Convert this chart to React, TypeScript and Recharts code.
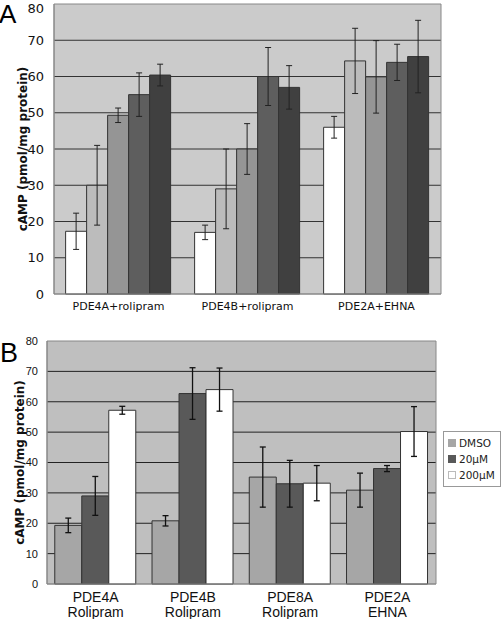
import React from "react";
import {
  BarChart,
  Bar,
  XAxis,
  YAxis,
  CartesianGrid,
  ErrorBar,
  Legend,
  ReferenceArea,
} from "recharts";

// panel A
const aGroups = ["PDE4A+rolipram", "PDE4B+rolipram", "PDE2A+EHNA"];
const aS1 = [17.3, 17, 46];
const aS1Err = [5, 2, 3];
const aS2 = [30, 29, 64.3];
const aS2Err = [11, 11, 9];
const aS3 = [49.3, 40, 59.9];
const aS3Err = [2, 7, 10];
const aS4 = [55, 60, 63.9];
const aS4Err = [6, 8, 5];
const aS5 = [60.4, 57, 65.5];
const aS5Err = [3, 6, 10];
const aColors = ["#ffffff", "#bcbcbc", "#959595", "#5e5e5e", "#404040"];

// panel B
const bGroups = ["PDE4A\nRolipram", "PDE4B\nRolipram", "PDE8A\nRolipram", "PDE2A\nEHNA"];
const bDmso = [19.3, 20.8, 35.2, 30.9];
const bDmsoErr = [2.4, 1.7, 9.9, 5.6];
const b20 = [29, 62.7, 33, 38];
const b20Err = [6.4, 8.5, 7.7, 1];
const b200 = [57.2, 64, 33.2, 50.2];
const b200Err = [1.3, 7.1, 5.8, 8.2];
const bNames = ["DMSO", "20µM", "200µM"];
const bColors = ["#a6a6a6", "#595959", "#ffffff"];

const yTicks = [0, 10, 20, 30, 40, 50, 60, 70, 80];
const gridVals = [10, 20, 30, 40, 50, 60, 70];

const dataA = aGroups.map((g, i) => ({
  name: g,
  s1: aS1[i], e1: aS1Err[i],
  s2: aS2[i], e2: aS2Err[i],
  s3: aS3[i], e3: aS3Err[i],
  s4: aS4[i], e4: aS4Err[i],
  s5: aS5[i], e5: aS5Err[i],
}));

const dataB = bGroups.map((g, i) => ({
  name: g,
  dmso: bDmso[i], eDmso: bDmsoErr[i],
  c20: b20[i], e20: b20Err[i],
  c200: b200[i], e200: b200Err[i],
}));

const sans = "'DejaVu Sans', Verdana, sans-serif";
const arial = "'Liberation Sans', Arial, sans-serif";

function YLabel({ x, y, text }: { x: number; y: number; text: string }) {
  return (
    <text
      x={x}
      y={y}
      transform={`rotate(-90 ${x} ${y})`}
      textAnchor="middle"
      fontFamily={sans}
      fontWeight="bold"
      fontSize={12}
      fill="#111"
    >
      {text}
    </text>
  );
}

function TwoLineTick(props: any) {
  const { x, y, payload } = props;
  const [l1, l2] = String(payload.value).split("\n");
  return (
    <text textAnchor="middle" fontFamily={arial} fontSize={14} fill="#111">
      <tspan x={x} y={y + 10}>{l1}</tspan>
      <tspan x={x} y={y + 25}>{l2}</tspan>
    </text>
  );
}

function LegendBox() {
  return (
    <div
      style={{
        border: "1px solid #999",
        background: "#fff",
        padding: "3px 0 3px 4px",
        fontFamily: sans,
        fontSize: 10.5,
        color: "#222",
        lineHeight: "16px",
      }}
    >
      {bNames.map((n, i) => (
        <div key={n} style={{ display: "flex", alignItems: "center" }}>
          <span
            style={{
              display: "inline-block",
              width: 8,
              height: 8,
              marginRight: 3,
              background: bColors[i],
              border: i === 2 ? "1px solid #bbb" : "none",
              boxSizing: "border-box",
            }}
          />
          {n}
        </div>
      ))}
    </div>
  );
}

export default function App() {
  const aKeys = ["s1", "s2", "s3", "s4", "s5"];
  return (
    <div style={{ position: "absolute", left: 0, top: 0, width: 502, height: 619, background: "#fff" }}>
      <div style={{ position: "absolute", left: 0, top: 0 }}>
        <BarChart
          width={502}
          height={320}
          data={dataA}
          margin={{ top: 4, right: 61, bottom: 0, left: 0 }}
          barCategoryGap="9%"
          barGap={0}
        >
          <CartesianGrid vertical={false} horizontalValues={gridVals} fill="#cbcbcb" stroke="#333" />
          <XAxis
            dataKey="name"
            height={26}
            tickLine={false}
            axisLine={{ stroke: "#888" }}
            tick={{ fontFamily: sans, fontSize: 11, fill: "#111" }}
            interval={0}
          />
          <YAxis
            width={54}
            domain={[0, 80]}
            ticks={yTicks}
            tickLine={false}
            axisLine={{ stroke: "#888" }}
            tickMargin={4}
            tick={{ fontFamily: sans, fontSize: 13, fill: "#111" }}
            label={<YLabel x={22} y={149} text="cAMP (pmol/mg protein)" />}
          />
          {aKeys.map((k, i) => (
            <Bar key={k} dataKey={k} fill={aColors[i]} stroke="#333" strokeWidth={1} isAnimationActive={false}>
              <ErrorBar dataKey={`e${i + 1}`} width={3} stroke="#222" strokeWidth={1} direction="y" />
            </Bar>
          ))}
          <ReferenceArea y1={0} y2={80} fill="none" stroke="#888" ifOverflow="visible" />
        </BarChart>
      </div>
      <div style={{ position: "absolute", left: 0, top: 320 }}>
        <BarChart
          width={502}
          height={299}
          data={dataB}
          margin={{ top: 21, right: 66, bottom: 0, left: 0 }}
          barCategoryGap="8%"
          barGap={0}
        >
          <CartesianGrid vertical={false} horizontalValues={gridVals} fill="#bfbfbf" stroke="#222" />
          <XAxis
            dataKey="name"
            height={35}
            tickLine={false}
            axisLine={{ stroke: "#888" }}
            tick={<TwoLineTick />}
            interval={0}
          />
          <YAxis
            width={47}
            domain={[0, 80]}
            ticks={yTicks}
            tickLine={false}
            axisLine={{ stroke: "#888" }}
            tickMargin={3}
            tick={{ fontFamily: arial, fontSize: 11, fill: "#111" }}
            label={<YLabel x={21} y={146} text="cAMP (pmol/mg protein)" />}
          />
          <Legend
            layout="vertical"
            align="center"
            verticalAlign="middle"
            content={<LegendBox />}
            wrapperStyle={{ left: 443, top: 111, width: 58 }}
          />
          <Bar dataKey="dmso" name={bNames[0]} fill={bColors[0]} stroke="#333" isAnimationActive={false}>
            <ErrorBar dataKey="eDmso" width={3} stroke="#111" strokeWidth={1.3} direction="y" />
          </Bar>
          <Bar dataKey="c20" name={bNames[1]} fill={bColors[1]} stroke="#333" isAnimationActive={false}>
            <ErrorBar dataKey="e20" width={3} stroke="#111" strokeWidth={1.3} direction="y" />
          </Bar>
          <Bar dataKey="c200" name={bNames[2]} fill={bColors[2]} stroke="#333" isAnimationActive={false}>
            <ErrorBar dataKey="e200" width={3} stroke="#111" strokeWidth={1.3} direction="y" />
          </Bar>
          <ReferenceArea y1={0} y2={80} fill="none" stroke="#888" ifOverflow="visible" />
        </BarChart>
      </div>
      <svg width={502} height={619} style={{ position: "absolute", left: 0, top: 0, pointerEvents: "none" }}>
        <text x={-1} y={22.5} fontFamily={arial} fontSize={26} fill="#000">A</text>
        <text x={0} y={362} fontFamily={arial} fontSize={27} fill="#000">B</text>
      </svg>
    </div>
  );
}
